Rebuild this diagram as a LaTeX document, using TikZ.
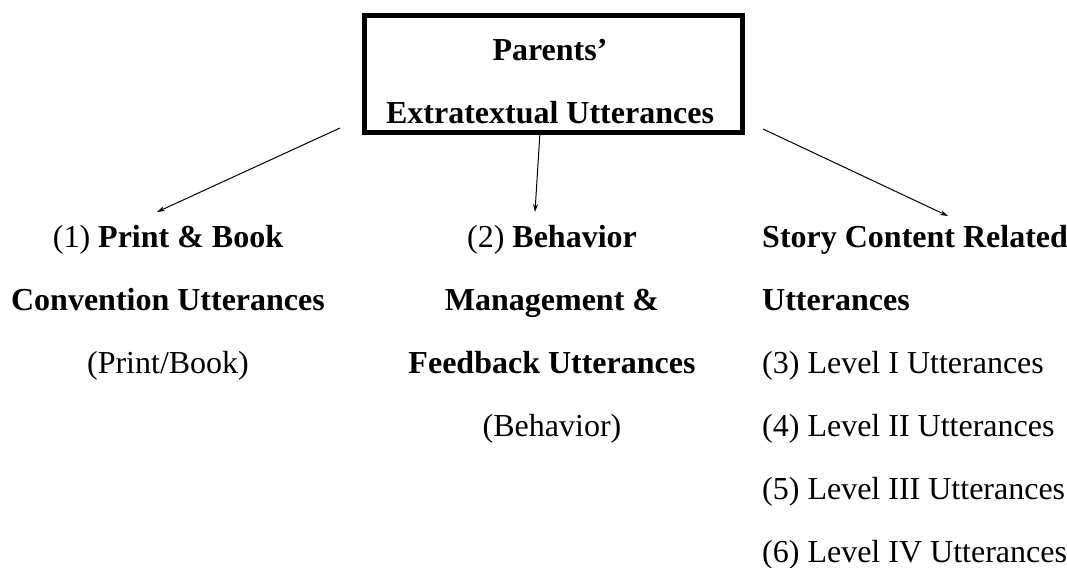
\documentclass[tikz,border=0pt]{standalone}
\usepackage{fontspec}
\setmainfont{Liberation Serif}
\usetikzlibrary{arrows.meta,calc}
\begin{document}
\begin{tikzpicture}[x=1pt,y=-1pt,
  lbl/.style={inner sep=0pt, anchor=base, font=\fontsize{32}{38}\selectfont},
  lblL/.style={lbl, anchor=base west},
  conn/.style={line width=1pt, -{Stealth[length=8pt,width=5pt]}},
  hdr/.style={draw, line width=5pt, minimum width=378pt, minimum height=117pt, inner sep=0pt}]
\useasboundingbox (0,0) rectangle (1067,567);
% header box
\node[hdr] (box) at (553.5,74) {};
\node[lbl] (t1) at (550,61) {\textbf{Parents’}};
\node[lbl] (t2) at (550,124) {\textbf{Extratextual Utterances}};
% left column
\node[lbl] (l1) at (168,247) {(1) \textbf{Print \& Book}};
\node[lbl] (l2) at (168,310) {\textbf{Convention Utterances}};
\node[lbl] (l3) at (168,373) {(Print/Book)};
% middle column
\node[lbl] (m1) at (552,247) {(2) \textbf{Behavior}};
\node[lbl] (m2) at (552,310) {\textbf{Management \&}};
\node[lbl] (m3) at (552,373) {\textbf{Feedback Utterances}};
\node[lbl] (m4) at (552,436) {(Behavior)};
% right column
\node[lblL] (r1) at (762,247) {\textbf{Story Content Related}};
\node[lblL] (r2) at (762,310) {\textbf{Utterances}};
\node[lblL] (r3) at (762,373) {(3) Level I Utterances};
\node[lblL] (r4) at (762,436) {(4) Level II Utterances};
\node[lblL] (r5) at (762,499) {(5) Level III Utterances};
\node[lblL] (r6) at (762,562) {(6) Level IV Utterances};
% connector ends
\coordinate (a1s) at ($(box.south west)+(-22,-7)$);
\coordinate (a1e) at ($(l1.base)+(-11,-35)$);
\coordinate (a2s) at ($(box.south)+(-13.5,-3)$);
\coordinate (a2e) at ($(m1.base)+(-17,-35)$);
\coordinate (a3s) at ($(box.south east)+(18,-6)$);
\coordinate (a3e) at ($(r1.base west)+(186,-31)$);
\draw[conn] (a1s) -- (a1e);
\draw[conn] (a2s) -- (a2e);
\draw[conn] (a3s) -- (a3e);
\end{tikzpicture}
\end{document}
